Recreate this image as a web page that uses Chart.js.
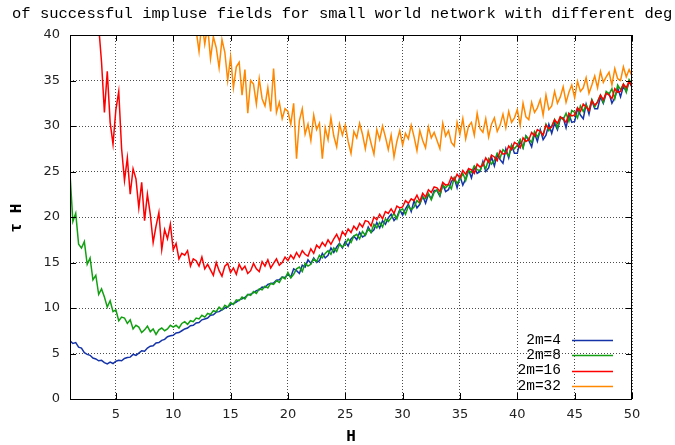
<!DOCTYPE html>
<html><head><meta charset="utf-8">
<script src="https://cdn.jsdelivr.net/npm/chart.js@4/dist/chart.umd.min.js"></script>
<style>html,body{margin:0;padding:0;background:#fff}canvas{display:block}</style>
</head><body>
<canvas id="c" width="675" height="445"></canvas>
<script>
const TITLE = "of successful impluse fields for small world network with different deg";
const X_LABEL = "H";
const Y_LABEL = "τ H";
const SERIES_NAMES = ["2m=4", "2m=8", "2m=16", "2m=32"];
const SERIES_COLORS = ["#1533a8", "#12a012", "#ff0000", "#ff8800"];
const X_TICKS = [5, 10, 15, 20, 25, 30, 35, 40, 45, 50];
const Y_TICKS = [0, 5, 10, 15, 20, 25, 30, 35, 40];
const H_STEP = 0.25;
const H_START = [1, 1, 3.25, 11.75];

const tau4 = [
6.4,6.1,6.2,5.7, 5.6,5.1,4.9,4.8, 4.5,4.4,4.2,4.25, 4.0,3.85,4.05,3.9,
4.15,4.25,4.2,4.45, 4.55,4.6,4.9,4.8, 5.05,5.3,5.25,5.6, 5.8,5.85,6.15,6.2,
6.45,6.55,6.85,6.95, 7.0,7.25,7.3,7.5, 7.7,7.8,8.05,8.1, 8.35,8.4,8.7,8.8,
8.9,9.2,9.25,9.55, 9.6,9.8,10.0,10.1, 10.4,10.5,10.65,10.9, 11.0,11.15,11.45,11.5,
11.7,11.9,12.0,12.3, 12.25,12.6,12.7,12.75, 13.05,13.1,13.4,13.35,
13.7,13.4,14.3,14.1, 13.8,14.7,14.5,15.3, 14.9,15.5,15.0,15.2, 16.0,15.5,15.8,16.6,
16.1,16.7,17.1,16.6, 17.3,16.8,17.6,17.9, 17.5,18.3,17.8,18.0, 18.9,18.3,18.6,19.4,
18.8,19.6,19.2,19.9, 20.3,19.6,20.0,20.8, 20.2,20.9,21.4,20.6, 21.8,21.0,21.4,22.3,
21.5,22.5,22.0,22.9, 22.9,22.3,23.6,22.8, 23.0,23.9,24.3,23.2, 24.5,23.5,24.2,25.2,
24.3,25.5,24.8,25.0, 26.1,25.0,25.4,26.6, 25.6,26.9,26.3,25.9, 27.5,26.5,27.9,27.0,
27.0,28.4,27.6,28.9, 28.4,27.7,29.2,28.3, 29.6,28.5,29.0,30.2, 29.2,30.3,29.6,30.8,
30.9,29.8,31.3,30.4, 30.5,31.9,31.2,30.8, 32.4,31.3,32.8,31.9, 31.9,33.2,32.5,33.6,
33.6,32.5,33.1,34.2, 33.2,34.4,33.8,34.9, 34.3
];

const tau8 = [
24.8,19.5,20.4,17.0, 16.6,17.3,14.8,15.5, 13.1,13.6,11.5,12.1, 11.2,10.1,10.8,9.6,
9.8,8.6,9.0,8.9, 8.3,8.7,7.7,8.1, 7.9,7.3,7.6,8.0, 7.4,7.7,7.1,7.6,
7.8,7.5,7.7,8.1, 7.9,8.1,7.8,8.3, 8.5,8.2,8.6,8.5, 8.9,8.8,9.2,9.0,
9.4,9.3,9.7,9.6, 10.1,9.8,10.3,10.1, 10.6,10.4,10.9,10.8, 11.2,11.0,11.5,11.4,
11.8,11.6,12.1,12.0, 12.4,12.2,12.7,12.6, 13.0,12.8,13.4,13.2,
13.9,13.3,13.7,14.3, 14.5,14.0,14.9,14.6, 14.8,15.4,15.1,15.8, 15.5,16.0,16.3,15.9,
16.6,16.2,17.0,16.7, 17.0,17.6,17.2,17.9, 18.1,17.6,18.4,18.0, 18.7,18.3,19.2,18.8,
19.4,18.9,19.8,19.5, 19.9,20.4,19.8,20.7, 20.9,20.3,21.2,20.8, 21.1,21.8,21.5,22.2,
22.0,22.6,21.9,22.7, 23.0,22.4,23.5,23.2, 23.6,23.1,24.3,23.7, 24.1,24.8,24.0,25.1,
24.9,25.6,25.2,25.1, 25.9,25.3,26.4,25.8, 26.2,27.0,26.5,27.4, 27.1,26.7,27.9,27.5,
27.9,28.5,27.6,28.9, 28.6,28.2,29.4,28.8, 29.4,29.0,30.2,29.5, 30.0,30.7,29.8,31.0,
30.7,31.4,30.5,31.7, 31.5,30.9,32.2,31.6, 32.3,31.7,32.9,32.1, 32.7,33.4,32.6,33.8,
33.5,34.1,33.0,34.5, 34.0,34.6,33.7,35.1, 34.6
];

const tau16 = [
45,41.0,37.0,
31.5,36.0,30.4,28.0, 31.8,33.8,27.5,24.0, 26.5,22.5,25.3,24.2, 21.0,23.8,19.6,22.5,
20.3,17.2,19.0,20.5, 16.4,18.6,17.6,19.2,
16.4,17.1,15.4,16.0, 15.8,16.3,14.6,15.4, 15.2,14.6,15.6,14.3, 14.8,14.2,13.6,15.0,
14.1,13.5,14.6,14.9, 13.9,14.4,13.7,14.8, 14.2,14.6,13.8,14.1, 14.9,14.3,14.0,15.1,
14.6,15.3,14.4,14.9, 15.4,14.7,15.0,15.6, 15.2,15.8,15.4,16.1, 15.6,16.3,15.9,15.7,
16.5,16.0,16.9,16.6, 17.2,16.8,17.5,17.0, 17.6,18.1,17.4,18.4, 18.0,18.7,18.3,19.0,
18.6,19.3,18.9,19.6, 19.5,19.0,20.0,19.7, 20.3,19.8,20.6,20.4, 20.9,20.4,21.2,21.0,
21.1,21.8,21.5,22.0, 21.8,22.4,21.7,22.6, 22.2,23.0,22.7,23.3, 23.2,22.8,23.8,23.5,
23.6,24.4,24.0,24.7, 24.3,25.1,24.7,25.3, 25.2,24.8,25.8,25.5, 25.7,26.5,26.0,26.8,
26.6,26.2,27.3,26.9, 27.0,27.8,27.4,28.2, 28.0,27.6,28.7,28.3, 28.5,29.3,28.9,29.6,
29.4,29.0,30.1,29.7, 29.9,30.7,30.3,31.0, 30.8,30.4,31.4,31.1, 31.2,32.0,31.6,32.4,
32.1,31.7,32.8,32.3, 32.6,33.4,32.9,33.6, 33.4,33.0,34.1,33.7, 33.8,34.6,34.2,34.9,
34.3
];

const tau32 = [
45,
40.5,38.2,41.5,39.0, 41.0,37.4,39.8,38.6, 36.4,39.5,38.1,35.0, 37.6,34.2,36.5,37.0,
33.4,36.2,31.4,35.0, 34.6,32.4,35.2,33.0, 32.2,34.2,31.6,36.3, 31.5,32.6,30.8,31.9,
31.6,30.2,32.5,26.4, 30.6,31.9,29.1,30.2, 28.4,31.2,29.6,30.3, 26.4,29.8,28.5,30.9,
28.9,27.7,30.2,29.0, 30.1,28.3,27.0,29.4, 28.7,30.3,29.1,27.5, 29.4,28.1,26.9,29.6,
28.5,30.0,28.8,27.4, 29.0,26.6,28.3,29.5, 27.9,29.2,28.6,30.1, 28.8,27.3,29.5,28.4,
27.6,29.9,28.7,29.3, 28.4,27.5,30.3,28.9, 29.5,28.2,27.8,30.4, 29.1,30.8,28.6,30.0,
30.4,29.0,31.4,29.7, 29.3,30.8,28.8,30.2, 30.9,29.4,30.1,31.3, 29.8,31.6,30.4,30.9,
31.8,30.1,32.5,31.0, 30.7,32.6,31.5,32.0, 32.9,31.2,33.4,31.8, 32.2,33.8,32.5,33.2,
34.3,32.6,33.7,34.5, 33.1,34.9,33.8,34.2, 35.3,33.6,34.5,35.5, 34.2,36.0,34.8,35.4,
35.9,34.5,36.3,35.2, 35.0,36.5,35.4,36.2, 35.5
];

const SERIES_VALUES = [tau4, tau8, tau16, tau32];

function toPoints(start, vals) {
  return vals.map((v, i) => ({ x: start + i * H_STEP, y: v }));
}

const MONO = "'Liberation Mono', 'DejaVu Sans Mono', monospace";

const framePlugin = {
  id: 'frame',
  afterDraw(chart) {
    const ctx = chart.ctx;
    const a = chart.chartArea;
    const xs = chart.scales.x, ys = chart.scales.y;
    ctx.save();
    ctx.strokeStyle = '#000';
    ctx.lineWidth = 1;
    ctx.setLineDash([]);
    ctx.strokeRect(Math.round(a.left) + 0.5, Math.round(a.top) + 0.5,
                   Math.round(a.right - a.left) - 1, Math.round(a.bottom - a.top));
    ctx.beginPath();
    X_TICKS.forEach(v => {
      const p = Math.round(xs.getPixelForValue(v)) + 0.5;
      ctx.moveTo(p, a.bottom); ctx.lineTo(p, a.bottom - 6);
      ctx.moveTo(p, a.top); ctx.lineTo(p, a.top + 6);
    });
    Y_TICKS.forEach(v => {
      const p = Math.round(ys.getPixelForValue(v)) + 0.5;
      ctx.moveTo(a.left, p); ctx.lineTo(a.left + 6, p);
      ctx.moveTo(a.right, p); ctx.lineTo(a.right - 6, p);
    });
    ctx.stroke();
    ctx.fillStyle = '#000';
    ctx.font = "15.5px " + MONO;
    ctx.textAlign = 'left';
    ctx.textBaseline = 'alphabetic';
    ctx.fillText(TITLE, 12, 18);
    ctx.font = "bold 16px " + MONO;
    ctx.textAlign = 'center';
    ctx.textBaseline = 'middle';
    ctx.fillText(X_LABEL, (a.left + a.right) / 2, 437);
    ctx.save();
    ctx.translate(17, 218);
    ctx.rotate(-Math.PI / 2);
    ctx.fillText(Y_LABEL, 0, 0);
    ctx.restore();
    ctx.font = "14.5px " + MONO;
    ctx.textAlign = 'right';
    ctx.textBaseline = 'middle';
    SERIES_NAMES.forEach((name, i) => {
      const y = a.bottom - 59 + i * 15.3;
      ctx.fillStyle = '#000';
      ctx.fillText(name, a.right - 71, y);
      ctx.strokeStyle = SERIES_COLORS[i];
      ctx.lineWidth = 1.5;
      ctx.beginPath();
      ctx.moveTo(a.right - 60, Math.round(y) + 0.5);
      ctx.lineTo(a.right - 19, Math.round(y) + 0.5);
      ctx.stroke();
    });
    ctx.restore();
  }
};

new Chart(document.getElementById('c'), {
  type: 'line',
  data: {
    datasets: SERIES_NAMES.map((name, i) => ({
      label: name,
      data: toPoints(H_START[i], SERIES_VALUES[i]),
      borderColor: SERIES_COLORS[i],
      borderWidth: 1.5,
      pointRadius: 0,
      tension: 0,
      fill: false,
      order: 4 - i
    }))
  },
  options: {
    responsive: false,
    animation: false,
    devicePixelRatio: 1,
    layout: { padding: { top: 35, right: 43, left: 0, bottom: 0 } },
    plugins: { legend: { display: false }, tooltip: { enabled: false }, title: { display: false } },
    scales: {
      x: {
        type: 'linear',
        min: 1, max: 50,
        afterBuildTicks: s => { s.ticks = X_TICKS.map(v => ({ value: v })); },
        afterFit: s => { s.height = 46; },
        ticks: { color: '#222', font: { family: 'DejaVu Sans', size: 13 }, padding: 8, maxRotation: 0, autoSkip: false },
        grid: { color: 'rgba(0,0,0,0.7)', lineWidth: 1, drawTicks: false },
        border: { display: false, dash: [1, 2] }
      },
      y: {
        type: 'linear',
        min: 0, max: 40,
        afterBuildTicks: s => { s.ticks = Y_TICKS.map(v => ({ value: v })); },
        afterFit: s => { s.width = 70; },
        ticks: { color: '#222', font: { family: 'DejaVu Sans', size: 13 }, padding: 10, autoSkip: false },
        grid: { color: 'rgba(0,0,0,0.7)', lineWidth: 1, drawTicks: false },
        border: { display: false, dash: [1, 2] }
      }
    }
  },
  plugins: [framePlugin]
});
</script>
</body></html>
